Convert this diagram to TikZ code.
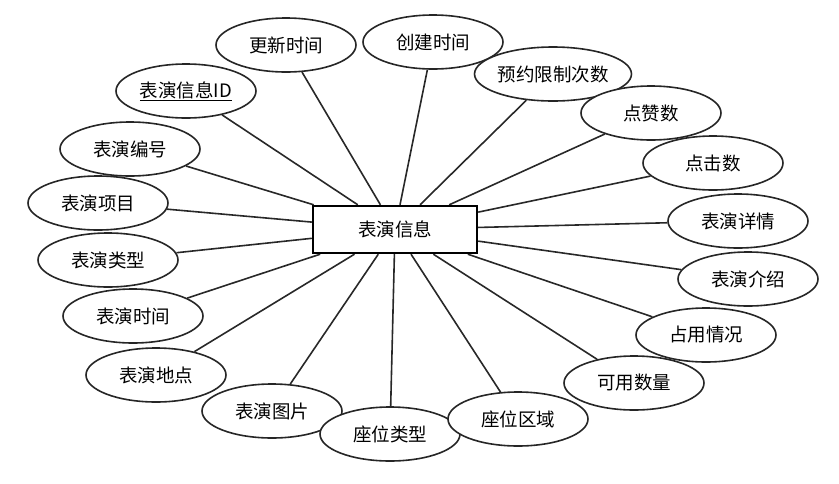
\documentclass[tikz,border=0pt]{standalone}
\usepackage{fontspec}
\setmainfont{Noto Sans CJK SC}
\usetikzlibrary{shapes.geometric, backgrounds}
\definecolor{zline}{RGB}{40, 40, 40}

\begin{document}
\begin{tikzpicture}[x=1pt, y=-1pt,
  entity/.style={rectangle, draw=black, fill=white, line width=2.4pt,
                 minimum width=164pt, minimum height=47pt, inner sep=0pt,
                 font=\fontsize{18.5}{21}\selectfont},
  attr/.style={ellipse, draw=black!85, fill=white, line width=1.6pt,
               minimum width=140pt, minimum height=54pt, inner sep=0pt,
               font=\fontsize{18.5}{21}\selectfont},
  link/.style={line width=1.6pt, zline}
]
\useasboundingbox (0,0) rectangle (839,483);

\node[entity] (show) at (395,229.5) {表演信息};

\node[attr] (upd)  at (286,45)  {更新时间};
\node[attr] (crt)  at (433,42)  {创建时间};
\node[attr] (pid)  at (186,91)  {\underline{表演信息ID}};
\node[attr] (lim)  at (553,74)  {预约限制次数};
\node[attr] (like) at (651,113) {点赞数};
\node[attr] (num)  at (130,149) {表演编号};
\node[attr] (clk)  at (713,163) {点击数};
\node[attr] (item) at (98,203)  {表演项目};
\node[attr] (det)  at (738,221) {表演详情};
\node[attr] (kind) at (108,260) {表演类型};
\node[attr] (intr) at (748,279) {表演介绍};
\node[attr] (time) at (133,316) {表演时间};
\node[attr] (occ)  at (706,335) {占用情况};
\node[attr] (loc)  at (156,375) {表演地点};
\node[attr] (avl)  at (634,383) {可用数量};
\node[attr] (pic)  at (272,411) {表演图片};
\node[attr] (seat) at (390,434) {座位类型};
\node[attr] (area) at (518,419) {座位区域};

\begin{scope}[on background layer]
  \foreach \a in {upd, crt, pid, lim, like, num, clk, item, det,
                  kind, intr, time, occ, loc, avl, pic, seat, area}
    \draw[link] (show) -- (\a);
\end{scope}

\end{tikzpicture}
\end{document}
